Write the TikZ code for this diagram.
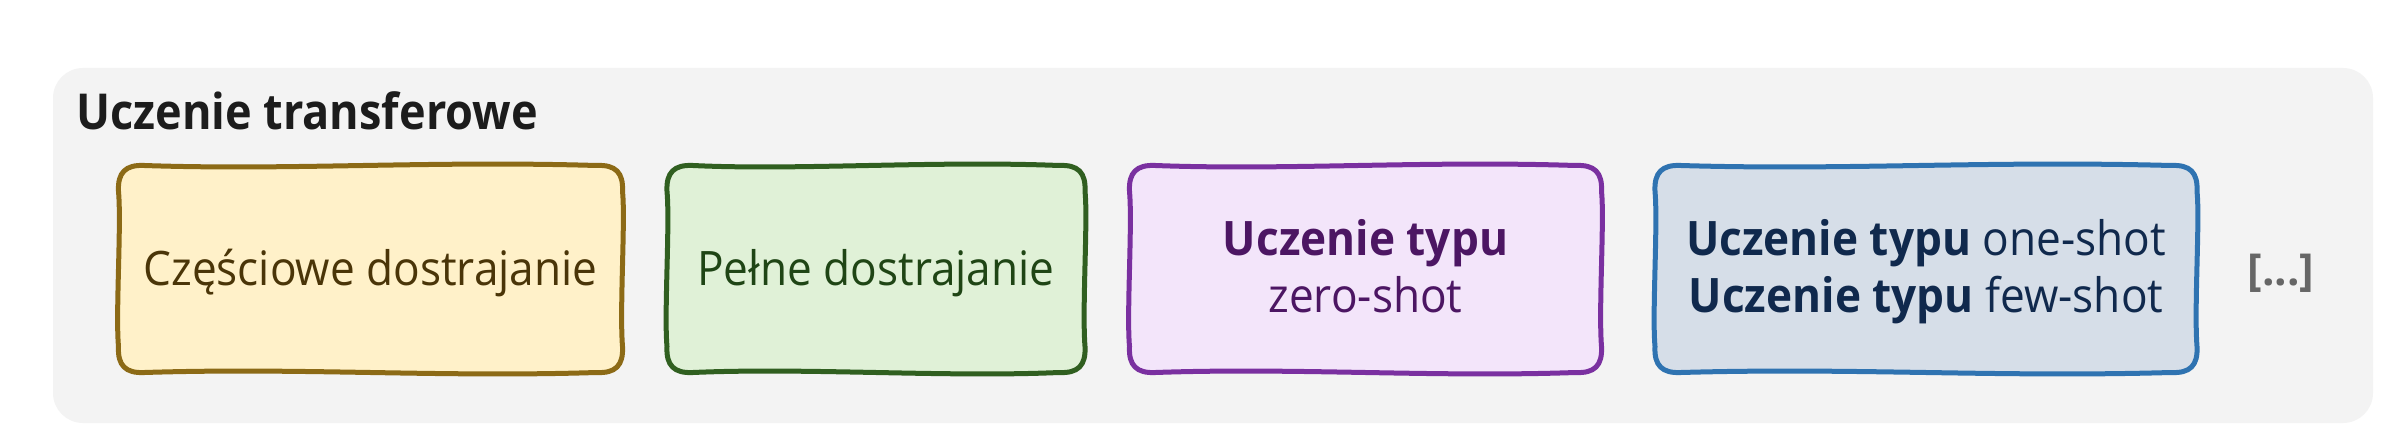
\documentclass[tikz,border=0pt]{standalone}
\usepackage{fontspec}
\setmainfont{Open Sans}
\newfontfamily\boxfont{Open Sans}[FakeStretch=0.93]
\newfontfamily\titlefont{Open Sans}[FakeStretch=0.91]
\usetikzlibrary{calc}
\pgfdeclarelayer{bg}
\pgfdeclarelayer{mid}
\pgfsetlayers{bg,mid,main}
\definecolor{panelgray}{HTML}{F3F3F3}
\definecolor{ylwfill}{HTML}{FFF1C9}
\definecolor{ylwline}{HTML}{8C6A16}
\definecolor{ylwtext}{HTML}{4A3508}
\definecolor{grnfill}{HTML}{E0F1D7}
\definecolor{grnline}{HTML}{305F20}
\definecolor{grntext}{HTML}{1F4515}
\definecolor{purfill}{HTML}{F3E5FA}
\definecolor{purline}{HTML}{7A30A0}
\definecolor{purtext}{HTML}{4C1663}
\definecolor{blufill}{HTML}{D6DEE8}
\definecolor{bluline}{HTML}{2F73B1}
\definecolor{blutext}{HTML}{10294D}
\definecolor{titletext}{HTML}{1C1C1C}
\definecolor{moretext}{HTML}{666666}
\newcommand\wobblybox[3]{%
\begin{pgfonlayer}{mid}
\path[draw=#2,fill=#3,line width=5pt,line join=round]
 ($(#1.north west)+(0,-26)$)
 .. controls ($(#1.north west)+(-1,-7)$) and ($(#1.north west)+(7,1)$) .. ($(#1.north west)+(26,0)$)
 .. controls ($(#1.north)+(-80,-5)$) and ($(#1.north)+(60,5)$) .. ($(#1.north east)+(-26,0)$)
 .. controls ($(#1.north east)+(-7,1)$) and ($(#1.north east)+(1,-7)$) .. ($(#1.north east)+(0,-26)$)
 .. controls ($(#1.east)+(3,50)$) and ($(#1.east)+(-3,-40)$) .. ($(#1.south east)+(0,26)$)
 .. controls ($(#1.south east)+(1,7)$) and ($(#1.south east)+(-7,-1)$) .. ($(#1.south east)+(-26,0)$)
 .. controls ($(#1.south)+(70,-5)$) and ($(#1.south)+(-70,5)$) .. ($(#1.south west)+(26,0)$)
 .. controls ($(#1.south west)+(7,-1)$) and ($(#1.south west)+(-1,7)$) .. ($(#1.south west)+(0,26)$)
 .. controls ($(#1.west)+(-3,-45)$) and ($(#1.west)+(3,45)$) .. cycle;
\end{pgfonlayer}}
\tikzset{
  boxshape/.style={rectangle,inner sep=0pt,outer sep=0pt,minimum height=207pt},
  boxtext/.style={font=\boxfont\fontsize{47.5}{56}\selectfont,inner sep=0pt,anchor=base},
  panelbox/.style={rectangle,rounded corners=30pt,fill=panelgray,inner sep=0pt,outer sep=0pt}
}
\begin{document}
\begin{tikzpicture}[x=1pt,y=1pt]
\useasboundingbox (0,0) rectangle (2388,432);
\begin{pgfonlayer}{bg}
\fill[white] (0,0) rectangle (2388,432);
\node[panelbox,minimum width=2320pt,minimum height=355pt] (panel) at (1213,186.5) {};
\end{pgfonlayer}
\node[anchor=base west,inner sep=0pt,text=titletext,font=\titlefont\fontsize{49.5}{58}\selectfont\bfseries] (title) at (76,302) {Uczenie transferowe};
% boxes
\node[boxshape,minimum width=504pt] (b1) at (370.5,163) {};
\node[boxshape,minimum width=418pt] (b2) at (876,163) {};
\node[boxshape,minimum width=472pt] (b3) at (1365.5,163) {};
\node[boxshape,minimum width=542pt] (b4) at (1926,163) {};
\wobblybox{b1}{ylwline}{ylwfill}
\wobblybox{b2}{grnline}{grnfill}
\wobblybox{b3}{purline}{purfill}
\wobblybox{b4}{bluline}{blufill}
\node[boxtext,text=ylwtext] (t1) at (370.5,147) {Częściowe dostrajanie};
\node[boxtext,text=grntext] (t2) at (876,147) {Pełne dostrajanie};
\node[boxtext,text=purtext] (t3a) at (1365.5,177) {\bfseries Uczenie typu};
\node[boxtext,text=purtext] (t3b) at (1365.5,120) {zero-shot};
\node[boxtext,text=blutext] (t4a) at (1926,177) {\bfseries Uczenie typu\mdseries{} one-shot};
\node[boxtext,text=blutext] (t4b) at (1926,120) {\bfseries Uczenie typu\mdseries{} few-shot};
\node[anchor=base,inner sep=0pt,text=moretext,font=\fontsize{44}{52}\selectfont\bfseries] (more) at (2281,147) {[...]};
\end{tikzpicture}
\end{document}
